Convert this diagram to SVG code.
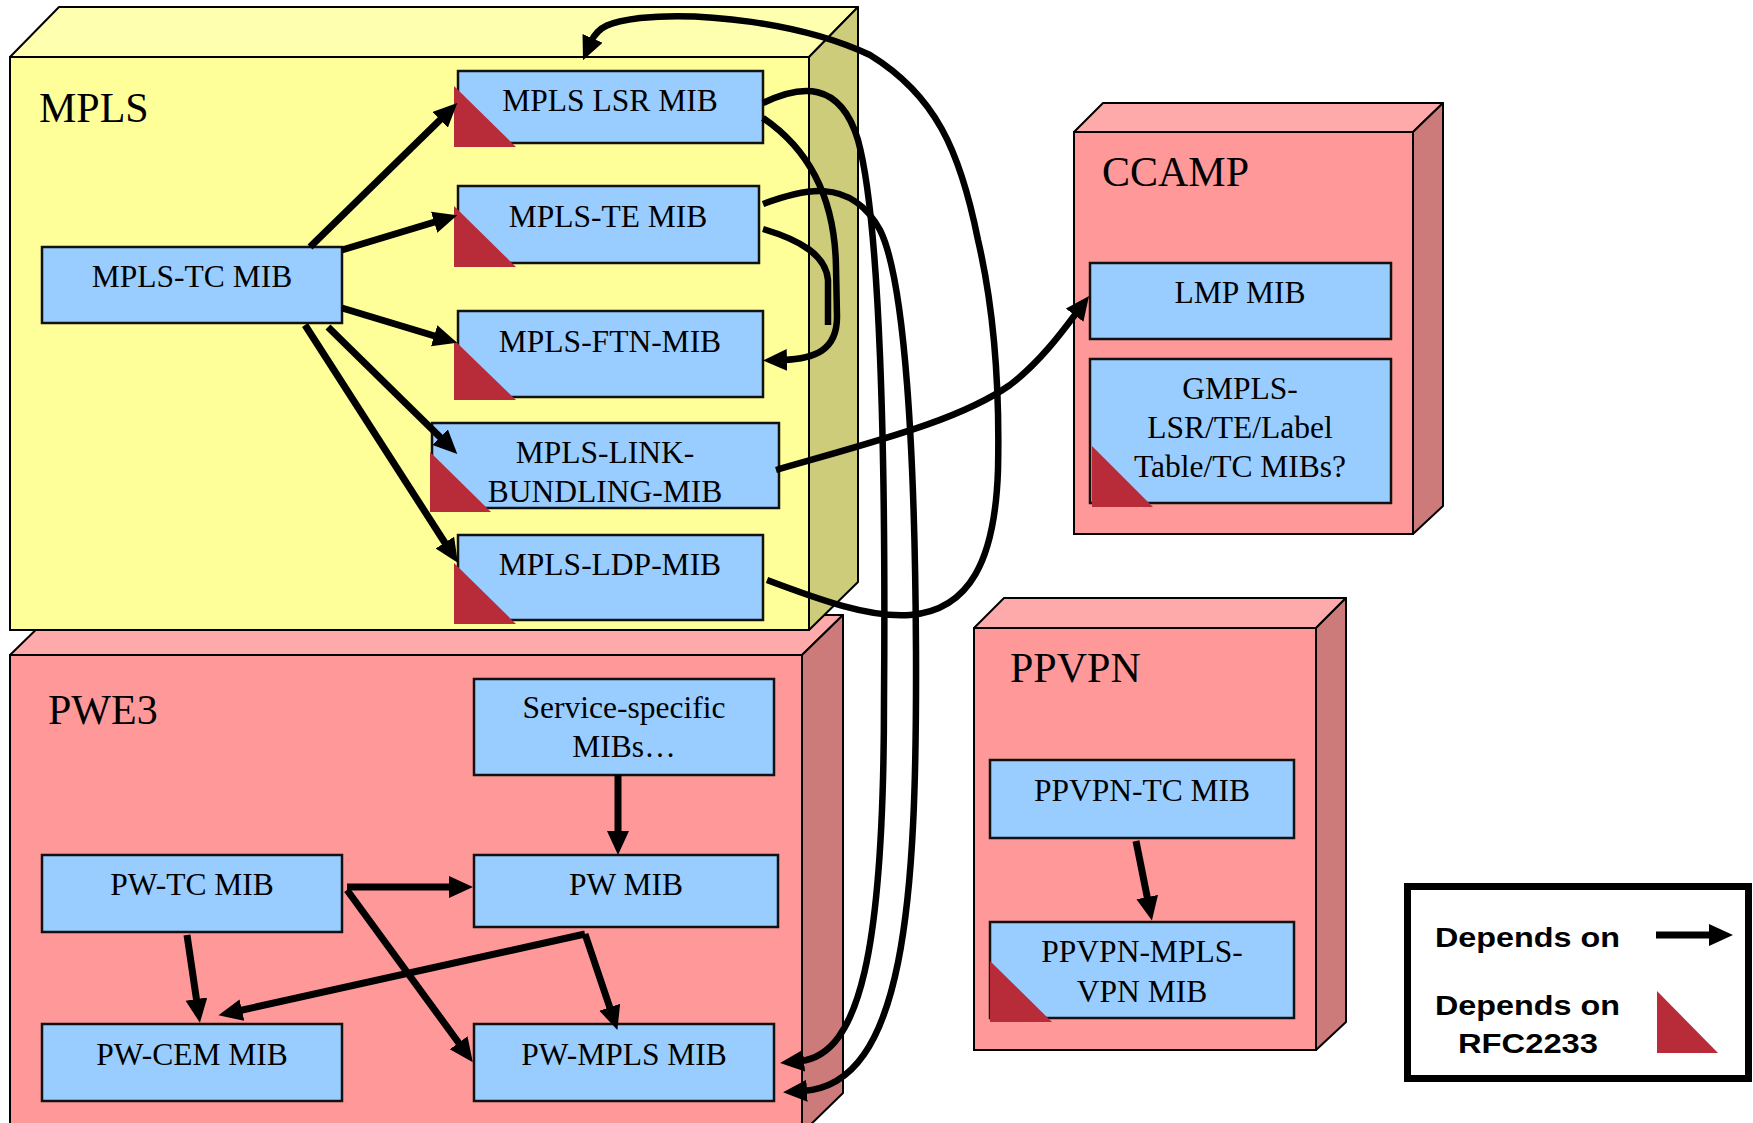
<svg xmlns="http://www.w3.org/2000/svg" width="1753" height="1123" viewBox="0 0 1753 1123">
  <defs>
    <style>
      .yf { fill: #FFFF99; stroke: #000; stroke-width: 2; }
      .yt { fill: #FFFFB0; stroke: #000; stroke-width: 2; stroke-linejoin: round; }
      .yr { fill: #CCCC7A; stroke: #000; stroke-width: 2; stroke-linejoin: round; }
      .pf { fill: #FF9999; stroke: #000; stroke-width: 2; }
      .pt { fill: #FFAAAA; stroke: #000; stroke-width: 2; stroke-linejoin: round; }
      .pr { fill: #CC7A7A; stroke: #000; stroke-width: 2; stroke-linejoin: round; }
      .node { fill: #99CCFF; stroke: #111; stroke-width: 2.5; }
      .rfc { fill: #B82C3A; }
      .t { font-family: "Liberation Serif", "Times New Roman", serif; font-size: 31.5px; fill: #000; text-anchor: middle; }
      .g { font-family: "Liberation Serif", "Times New Roman", serif; font-size: 42px; fill: #000; }
      .lg { font-family: "Liberation Sans", Arial, sans-serif; font-size: 27px; font-weight: bold; fill: #000; }
      .c { fill: none; stroke: #000; stroke-width: 7; marker-end: url(#ah); }
      .cc { fill: none; stroke: #000; stroke-width: 6.5; marker-end: url(#ah); }
      .cn { fill: none; stroke: #000; stroke-width: 6.5; }
    </style>
    <marker id="ah" markerUnits="userSpaceOnUse" markerWidth="26" markerHeight="24" refX="4" refY="11" orient="auto" viewBox="0 0 26 24">
      <path d="M0,0 L24,11 L0,22 z" fill="#000"/>
    </marker>
  </defs>

  <rect width="1753" height="1123" fill="#fff"/>

  <!-- PWE3 working group (drawn first, sits behind MPLS) -->
  <g id="pwe3">
    <polygon class="pt" points="10,655 51,615 843,615 802,655"/>
    <polygon class="pr" points="802,655 843,615 843,1093 802,1133"/>
    <rect class="pf" x="10" y="655" width="792" height="478"/>
    <text class="g" x="48" y="724">PWE3</text>
  </g>

  <!-- MPLS working group -->
  <g id="mpls">
    <polygon class="yt" points="10,57 59,7 858,7 809,57"/>
    <polygon class="yr" points="809,57 858,7 858,582 809,630"/>
    <rect class="yf" x="10" y="57" width="799" height="573"/>
    <text class="g" x="39" y="122">MPLS</text>
  </g>

  <!-- CCAMP working group -->
  <g id="ccamp">
    <polygon class="pt" points="1074,132 1103,103 1443,103 1413,132"/>
    <polygon class="pr" points="1413,132 1443,103 1443,506 1413,534"/>
    <rect class="pf" x="1074" y="132" width="339" height="402"/>
    <text class="g" x="1102" y="186">CCAMP</text>
  </g>

  <!-- PPVPN working group -->
  <g id="ppvpn">
    <polygon class="pt" points="974,628 1004,598 1346,598 1316,628"/>
    <polygon class="pr" points="1316,628 1346,598 1346,1022 1316,1050"/>
    <rect class="pf" x="974" y="628" width="342" height="422"/>
    <text class="g" x="1010" y="682">PPVPN</text>
  </g>

  <!-- MIB modules -->
  <g id="mpls-tc-mib">
    <rect class="node" x="42" y="247" width="300" height="76"/>
    <text class="t" x="192" y="287">MPLS-TC MIB</text>
  </g>
  <g id="mpls-lsr-mib">
    <rect class="node" x="458" y="71" width="305" height="72"/>
    <polygon class="rfc" points="454,86 454,147 516,147"/>
    <text class="t" x="610" y="111">MPLS LSR MIB</text>
  </g>
  <g id="mpls-te-mib">
    <rect class="node" x="458" y="186" width="301" height="77"/>
    <polygon class="rfc" points="454,206 454,267 516,267"/>
    <text class="t" x="608" y="227">MPLS-TE MIB</text>
  </g>
  <g id="mpls-ftn-mib">
    <rect class="node" x="458" y="311" width="305" height="86"/>
    <polygon class="rfc" points="454,340 454,400 516,400"/>
    <text class="t" x="610" y="352">MPLS-FTN-MIB</text>
  </g>
  <g id="mpls-link-bundling-mib">
    <rect class="node" x="432" y="423" width="347" height="85"/>
    <polygon class="rfc" points="430,452 430,512 491,512"/>
    <text class="t" x="605" y="463">MPLS-LINK-</text>
    <text class="t" x="605" y="502">BUNDLING-MIB</text>
  </g>
  <g id="mpls-ldp-mib">
    <rect class="node" x="458" y="535" width="305" height="85"/>
    <polygon class="rfc" points="454,563 454,624 516,624"/>
    <text class="t" x="610" y="575">MPLS-LDP-MIB</text>
  </g>

  <g id="service-specific-mibs">
    <rect class="node" x="474" y="679" width="300" height="96"/>
    <text class="t" x="624" y="718">Service-specific</text>
    <text class="t" x="624" y="757">MIBs…</text>
  </g>
  <g id="pw-tc-mib">
    <rect class="node" x="42" y="855" width="300" height="77"/>
    <text class="t" x="192" y="895">PW-TC MIB</text>
  </g>
  <g id="pw-mib">
    <rect class="node" x="474" y="855" width="304" height="72"/>
    <text class="t" x="626" y="895">PW MIB</text>
  </g>
  <g id="pw-cem-mib">
    <rect class="node" x="42" y="1024" width="300" height="77"/>
    <text class="t" x="192" y="1065">PW-CEM MIB</text>
  </g>
  <g id="pw-mpls-mib">
    <rect class="node" x="474" y="1024" width="300" height="77"/>
    <text class="t" x="624" y="1065">PW-MPLS MIB</text>
  </g>

  <g id="lmp-mib">
    <rect class="node" x="1090" y="263" width="301" height="76"/>
    <text class="t" x="1240" y="303">LMP MIB</text>
  </g>
  <g id="gmpls-mibs">
    <rect class="node" x="1090" y="359" width="301" height="144"/>
    <polygon class="rfc" points="1092,446 1092,507 1153,507"/>
    <text class="t" x="1240" y="399">GMPLS-</text>
    <text class="t" x="1240" y="438">LSR/TE/Label</text>
    <text class="t" x="1240" y="477">Table/TC MIBs?</text>
  </g>

  <g id="ppvpn-tc-mib">
    <rect class="node" x="990" y="760" width="304" height="78"/>
    <text class="t" x="1142" y="801">PPVPN-TC MIB</text>
  </g>
  <g id="ppvpn-mpls-vpn-mib">
    <rect class="node" x="990" y="922" width="304" height="96"/>
    <polygon class="rfc" points="990,961 990,1022 1052,1022"/>
    <text class="t" x="1142" y="962">PPVPN-MPLS-</text>
    <text class="t" x="1142" y="1002">VPN MIB</text>
  </g>

  <!-- dependency connectors -->
  <g id="connectors">
    <!-- MPLS-TC fan-out -->
    <line class="c" x1="310" y1="247" x2="443" y2="117"/>
    <line class="c" x1="342" y1="250" x2="438" y2="221"/>
    <line class="c" x1="342" y1="308" x2="438" y2="337"/>
    <line class="c" x1="328" y1="327" x2="443" y2="440"/>
    <line class="c" x1="305" y1="325" x2="447" y2="546"/>

    <!-- LSR and TE into FTN -->
    <path class="cc" d="M763,118 C810,150 835,200 836,267 L837,317 C837,350 815,359 783,360"/>
    <path class="cn" d="M763,229 C800,240 826,255 828,280 L828,325"/>

    <!-- LSR and TE down to PW-MPLS -->
    <path class="cc" d="M763,103 C800,85 840,80 858,140 C880,220 886,450 884,700 C884,950 860,1055 800,1061"/>
    <path class="cc" d="M763,204 C800,190 850,175 880,230 C905,280 915,450 916,650 C917,900 905,1085 803,1091"/>

    <!-- LDP back up to LSR -->
    <path class="cc" d="M767,580 C820,600 870,618 910,615 C970,610 995,560 998,470 C1000,380 992,300 978,240 C960,150 935,95 870,55 C800,22 700,12 640,18 C610,22 598,26 591,42"/>

    <!-- LINK-BUNDLING to LMP -->
    <path class="cc" d="M776,470 C880,440 960,420 1010,385 C1040,362 1062,332 1077,312"/>

    <!-- PWE3 internals -->
    <line class="c" x1="618" y1="775" x2="618" y2="835"/>
    <line class="c" x1="347" y1="887" x2="453" y2="887"/>
    <line class="c" x1="347" y1="890" x2="461" y2="1046"/>
    <line class="c" x1="187" y1="935" x2="197" y2="1003"/>
    <line class="c" x1="585" y1="934" x2="238" y2="1011"/>
    <line class="c" x1="585" y1="934" x2="611" y2="1011"/>

    <!-- PPVPN internals -->
    <line class="c" x1="1136" y1="841" x2="1148" y2="901"/>
  </g>

  <!-- legend -->
  <g id="legend">
    <rect x="1407.5" y="886.5" width="341" height="192" fill="#fff" stroke="#000" stroke-width="7"/>
    <text class="lg" x="1435" y="947" textLength="185" lengthAdjust="spacingAndGlyphs">Depends on</text>
    <line class="c" x1="1656" y1="935" x2="1713" y2="935"/>
    <text class="lg" x="1435" y="1015" textLength="185" lengthAdjust="spacingAndGlyphs">Depends on</text>
    <text class="lg" x="1458" y="1053" textLength="140" lengthAdjust="spacingAndGlyphs">RFC2233</text>
    <polygon class="rfc" points="1657,991 1657,1053 1718,1053"/>
  </g>
</svg>
